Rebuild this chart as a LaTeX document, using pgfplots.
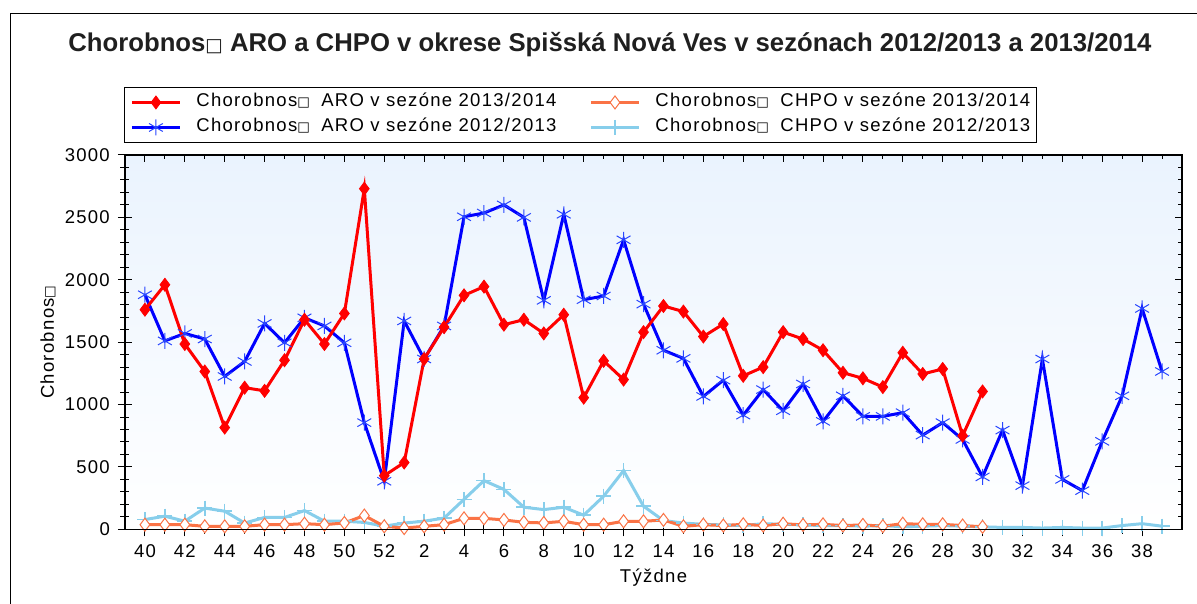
\documentclass[border=0pt]{standalone}
\usepackage{fontspec}
\setmainfont{Liberation Sans}[LetterSpace=7]
\newfontfamily\titfont{Liberation Sans}
\newfontfamily\dejavu{DejaVu Sans}
\usepackage{pgfplots}
\pgfplotsset{compat=1.18}
\newcommand{\bx}{{\dejavu\scalebox{0.72}{□}}}
\newcommand{\bxs}{\bx\hspace{5pt}\ }
\definecolor{aroA}{RGB}{255,0,0}
\definecolor{aroB}{RGB}{0,0,255}
\definecolor{astB}{RGB}{40,70,255}
\definecolor{chpoA}{RGB}{250,115,70}
\definecolor{chpoB}{RGB}{135,206,235}
\definecolor{bgtop}{RGB}{234,243,254}
\pgfplotsset{
  sA/.style={color=aroA, line width=3pt, mark=diamond*, mark size=6.5pt, mark options={solid, line width=0.8pt, fill=aroA, draw=aroA}},
  sB/.style={color=aroB, line width=3pt, mark=asterisk, mark size=8pt, mark options={solid, line width=1pt, draw=astB}},
  cA/.style={color=chpoA, line width=3pt, mark=diamond*, mark size=6.5pt, mark options={solid, line width=1pt, fill=white, draw=chpoA}},
  cB/.style={color=chpoB, line width=3pt, mark=+, mark size=7.5pt, mark options={solid, line width=1.5pt}},
}
\begin{document}
\begin{tikzpicture}
\useasboundingbox (-125pt,-73.7pt) rectangle (1072pt,529.3pt);
\begin{axis}[
  at={(0pt,0pt)}, anchor=south west,
  scale only axis, width=1057pt, height=374.3pt,
  xmin=-1, xmax=52, ymin=0, ymax=3000,
  clip=false,
  axis background/.style={top color=bgtop, bottom color=white},
  axis line style={line width=1.2pt, black},
  xtick={0,2,...,50},
  xticklabels={40,42,44,46,48,50,52,2,4,6,8,10,12,14,16,18,20,22,24,26,28,30,32,34,36,38},
  minor xtick={1,3,...,51},
  ytick={0,500,...,3000},
  minor ytick={100,200,300,400,600,700,800,900,1100,1200,1300,1400,1600,1700,1800,1900,2100,2200,2300,2400,2600,2700,2800,2900},
  xtick pos=left, ytick pos=left,
  tick align=center,
  major tick length=14pt, minor tick length=9pt,
  every tick/.style={black, line width=1pt},
  /pgf/number format/assume math mode=true,
  /pgf/number format/set thousands separator={},
  tick label style={font=\fontsize{18.5}{20}\selectfont, black},
  yticklabel style={inner sep=0pt, anchor=east, xshift=-8pt},
  xticklabel style={inner sep=0pt, anchor=north, yshift=-8pt},
  label style={font=\fontsize{18.5}{20}\selectfont},
  ylabel={Chorobnos\bx},
  y label style={at={(axis description cs:-0.0728,0.5)}, anchor=center, rotate=0},
  xlabel={Týždne},
  x label style={at={(axis description cs:0.5,-0.130)}, anchor=center},
  legend columns=2,
  legend cell align=left,
  legend image code/.code={\draw[mark repeat=2,mark phase=2,#1] plot coordinates {(0pt,0pt) (24pt,0pt) (48pt,0pt)};},
  legend style={at={(axis description cs:-0.001,1.1817)}, anchor=north west,
    draw=black, line width=1pt, fill=white,
    font=\fontsize{18.5}{20}\selectfont,
    inner xsep=6pt, inner ysep=6pt, row sep=7pt,
    nodes={inner sep=0pt, text height=13pt, text depth=5pt},
    /tikz/every odd column/.append style={column sep=15pt},
    /tikz/every even column/.append style={column sep=33pt}},
]
% ARO 2012/2013
\addplot[sB, forget plot] coordinates {
(0,1880) (1,1510) (2,1570) (3,1525) (4,1225) (5,1345) (6,1650) (7,1495) (8,1695) (9,1630)
(10,1495) (11,855) (12,385) (13,1670) (14,1365) (15,1630) (16,2505) (17,2535) (18,2600) (19,2500)
(20,1835) (21,2525) (22,1840) (23,1870) (24,2320) (25,1805) (26,1435) (27,1370) (28,1065) (29,1195)
(30,915) (31,1120) (32,950) (33,1165) (34,865) (35,1070) (36,905) (37,905) (38,935) (39,755)
(40,855) (41,720) (42,420) (43,795) (44,350) (45,1365) (46,400) (47,310) (48,705) (49,1070)
(50,1770) (51,1265)};
% CHPO 2012/2013
\addplot[cB, forget plot] coordinates {
(0,78) (1,105) (2,65) (3,170) (4,145) (5,50) (6,95) (7,95) (8,150) (9,65)
(10,65) (11,55) (12,25) (13,50) (14,65) (15,90) (16,240) (17,390) (18,320) (19,177)
(20,158) (21,177) (22,113) (23,265) (24,470) (25,185) (26,70) (27,50) (28,40) (29,35)
(30,30) (31,45) (32,40) (33,35) (34,30) (35,30) (36,25) (37,30) (38,20) (39,25)
(40,30) (41,25) (42,20) (43,15) (44,15) (45,10) (46,15) (47,10) (48,10) (49,30)
(50,45) (51,25)};
% ARO 2013/2014
\addplot[sA] coordinates {
(0,1760) (1,1960) (2,1485) (3,1265) (4,815) (5,1135) (6,1110) (7,1355) (8,1680) (9,1485)
(10,1730) (11,2730) (12,430) (13,535) (14,1365) (15,1620) (16,1875) (17,1945) (18,1640) (19,1680)
(20,1570) (21,1720) (22,1055) (23,1350) (24,1200) (25,1580) (26,1790) (27,1745) (28,1545) (29,1645)
(30,1230) (31,1300) (32,1580) (33,1525) (34,1435) (35,1255) (36,1210) (37,1140) (38,1415) (39,1245)
(40,1285) (41,750) (42,1105)};
\addlegendentry{Chorobnos\bxs ARO v sezóne 2013/2014}
% CHPO 2013/2014
\addplot[cA] coordinates {
(0,37) (1,37) (2,37) (3,24) (4,24) (5,24) (6,37) (7,37) (8,45) (9,37)
(10,51) (11,110) (12,24) (13,10) (14,24) (15,37) (16,88) (17,88) (18,75) (19,56)
(20,51) (21,64) (22,37) (23,37) (24,64) (25,64) (26,75) (27,24) (28,37) (29,30)
(30,40) (31,30) (32,45) (33,35) (34,40) (35,30) (36,35) (37,25) (38,45) (39,40)
(40,40) (41,30) (42,20)};
\addlegendentry{Chorobnos\bxs CHPO v sezóne 2013/2014}
\addlegendimage{sB}
\addlegendentry{Chorobnos\bxs ARO v sezóne 2012/2013}
\addlegendimage{cB}
\addlegendentry{Chorobnos\bxs CHPO v sezóne 2012/2013}
\end{axis}
\begin{axis}[
  at={(0pt,0pt)}, anchor=south west,
  scale only axis, width=1057pt, height=374.3pt,
  xmin=-1, xmax=52, ymin=0, ymax=3000,
  axis line style={line width=1.2pt, black},
  xtick={0,2,...,50}, minor xtick={1,3,...,51},
  ytick={0,500,...,3000},
  minor ytick={100,200,300,400,600,700,800,900,1100,1200,1300,1400,1600,1700,1800,1900,2100,2200,2300,2400,2600,2700,2800,2900},
  xticklabels={}, yticklabels={},
  xtick pos=right, ytick pos=right,
  tick align=inside,
  major tick length=7pt, minor tick length=4pt,
  every tick/.style={black, line width=1pt},
]
\end{axis}
\draw[line width=1pt, black] (-114pt,-80pt) -- (-114pt,515.3pt) -- (1080pt,515.3pt);
\node[font=\titfont\bfseries\fontsize{25.7}{28}\selectfont, text=black!88, anchor=center] at (485pt,484.3pt)
  {Chorobnos\bx\ ARO a CHPO v okrese Spišská Nová Ves v sezónach 2012/2013 a 2013/2014};
\end{tikzpicture}
\end{document}
